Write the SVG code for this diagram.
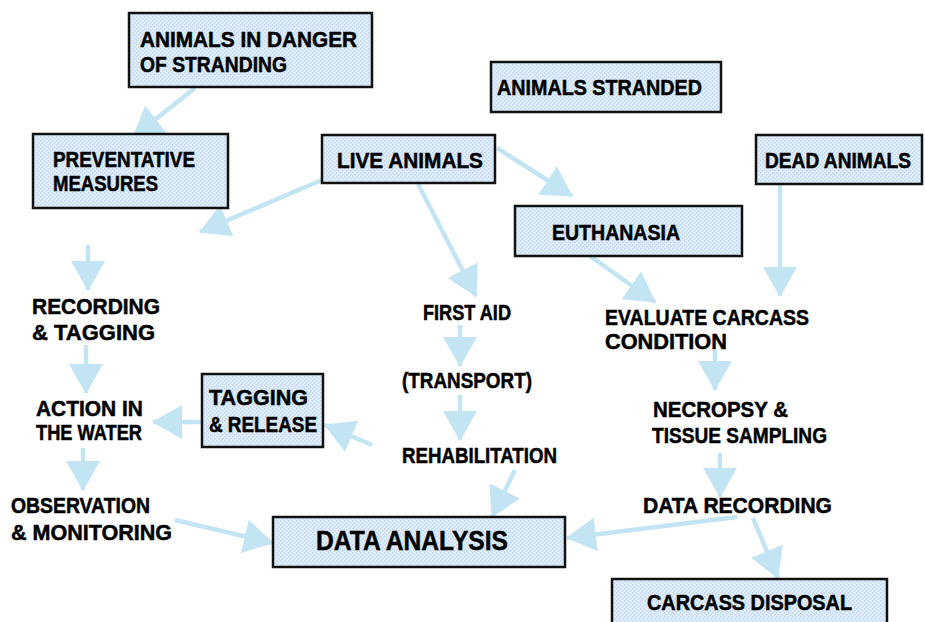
<svg xmlns="http://www.w3.org/2000/svg" width="925" height="622" viewBox="0 0 925 622">
  <defs>
    <pattern id="dots" width="4" height="4" patternUnits="userSpaceOnUse">
      <rect width="4" height="4" fill="#d8f0f8"/>
      <rect x="0" y="0" width="1.5" height="1.5" fill="#cfd2ee"/>
      <rect x="2" y="2" width="1.5" height="1.5" fill="#cfd2ee"/>
    </pattern>
    <marker id="ah" markerUnits="userSpaceOnUse" markerWidth="30" markerHeight="34" refX="29" refY="17" orient="auto" viewBox="0 0 30 34">
      <path d="M0,0 L30,17 L0,34 Z" fill="#c3e5f3"/>
    </marker>
    <style>
      .box { fill: url(#dots); stroke: #111; stroke-width: 2.5; }
      .t { font-family: "Liberation Sans", Arial, sans-serif; font-weight: bold; font-size: 22px; fill: #000; stroke: #000; stroke-width: 0.5; }
      .big { font-size: 28px; }
      .c line { stroke: #c3e5f3; stroke-width: 4.5; marker-end: url(#ah); }
    </style>
  </defs>
  <rect width="925" height="622" fill="#fff"/>

  <g id="connectors" class="c">
    <line x1="195" y1="88" x2="133" y2="137"/>
    <line x1="322" y1="180" x2="200" y2="232"/>
    <line x1="497" y1="148" x2="572" y2="196"/>
    <line x1="418" y1="184" x2="476" y2="296"/>
    <line x1="590" y1="256" x2="655" y2="302"/>
    <line x1="780" y1="184" x2="780" y2="296"/>
    <line x1="88" y1="245" x2="88" y2="290"/>
    <line x1="86" y1="345" x2="86" y2="393"/>
    <line x1="83" y1="448" x2="83" y2="490"/>
    <line x1="202" y1="422" x2="153" y2="422"/>
    <line x1="372" y1="445" x2="325" y2="425"/>
    <line x1="460" y1="325" x2="460" y2="366"/>
    <line x1="460" y1="395" x2="460" y2="440"/>
    <line x1="515" y1="470" x2="492" y2="517"/>
    <line x1="175" y1="520" x2="273" y2="543"/>
    <line x1="737" y1="517" x2="567" y2="538"/>
    <line x1="753" y1="518" x2="778" y2="578"/>
    <line x1="715" y1="350" x2="715" y2="390"/>
    <line x1="720" y1="453" x2="720" y2="497"/>
  </g>

  <g id="danger">
    <rect class="box" x="129" y="13" width="243" height="74"/>
    <text class="t" x="140" y="47" textLength="217" lengthAdjust="spacingAndGlyphs">ANIMALS IN DANGER</text>
    <text class="t" x="140" y="72" textLength="147" lengthAdjust="spacingAndGlyphs">OF STRANDING</text>
  </g>
  <g id="stranded">
    <rect class="box" x="491" y="62" width="230" height="50"/>
    <text class="t" x="497" y="95" textLength="205" lengthAdjust="spacingAndGlyphs">ANIMALS STRANDED</text>
  </g>
  <g id="preventative">
    <rect class="box" x="33" y="134" width="195" height="74"/>
    <text class="t" x="53" y="167" textLength="142" lengthAdjust="spacingAndGlyphs">PREVENTATIVE</text>
    <text class="t" x="53" y="191" textLength="105" lengthAdjust="spacingAndGlyphs">MEASURES</text>
  </g>
  <g id="live">
    <rect class="box" x="322" y="135" width="173" height="48"/>
    <text class="t" x="337" y="168" textLength="146" lengthAdjust="spacingAndGlyphs">LIVE ANIMALS</text>
  </g>
  <g id="dead">
    <rect class="box" x="756" y="135" width="166" height="49"/>
    <text class="t" transform="translate(765,168) scale(0.87,1)" x="0" y="0">DEAD ANIMALS</text>
  </g>
  <g id="euthanasia">
    <rect class="box" x="515" y="206" width="227" height="50"/>
    <text class="t" x="552" y="240" textLength="128" lengthAdjust="spacingAndGlyphs">EUTHANASIA</text>
  </g>
  <g id="recording">
    <text class="t" x="32" y="314" textLength="128" lengthAdjust="spacingAndGlyphs">RECORDING</text>
    <text class="t" x="32" y="340" textLength="123" lengthAdjust="spacingAndGlyphs">&amp; TAGGING</text>
  </g>
  <g id="action">
    <text class="t" x="36" y="416" textLength="107" lengthAdjust="spacingAndGlyphs">ACTION IN</text>
    <text class="t" x="36" y="440" textLength="106" lengthAdjust="spacingAndGlyphs">THE WATER</text>
  </g>
  <g id="observation">
    <text class="t" x="11" y="513" textLength="139" lengthAdjust="spacingAndGlyphs">OBSERVATION</text>
    <text class="t" x="11" y="540" textLength="161" lengthAdjust="spacingAndGlyphs">&amp; MONITORING</text>
  </g>
  <g id="tagging">
    <rect class="box" x="202" y="374" width="121" height="73"/>
    <text class="t" x="209" y="405" textLength="99" lengthAdjust="spacingAndGlyphs">TAGGING</text>
    <text class="t" x="209" y="432" textLength="108" lengthAdjust="spacingAndGlyphs">&amp; RELEASE</text>
  </g>
  <g id="firstaid">
    <text class="t" x="423" y="320" textLength="88" lengthAdjust="spacingAndGlyphs">FIRST AID</text>
  </g>
  <g id="transport">
    <text class="t" x="402" y="388" textLength="130" lengthAdjust="spacingAndGlyphs">(TRANSPORT)</text>
  </g>
  <g id="rehab">
    <text class="t" x="402" y="463" textLength="155" lengthAdjust="spacingAndGlyphs">REHABILITATION</text>
  </g>
  <g id="evaluate">
    <text class="t" x="605" y="325" textLength="204" lengthAdjust="spacingAndGlyphs">EVALUATE CARCASS</text>
    <text class="t" x="605" y="349" textLength="122" lengthAdjust="spacingAndGlyphs">CONDITION</text>
  </g>
  <g id="necropsy">
    <text class="t" x="653" y="417" textLength="135" lengthAdjust="spacingAndGlyphs">NECROPSY &amp;</text>
    <text class="t" x="652" y="443" textLength="175" lengthAdjust="spacingAndGlyphs">TISSUE SAMPLING</text>
  </g>
  <g id="datarecording">
    <text class="t" x="643" y="513" textLength="189" lengthAdjust="spacingAndGlyphs">DATA RECORDING</text>
  </g>
  <g id="analysis">
    <rect class="box" x="273" y="517" width="292" height="50"/>
    <text class="t big" x="316" y="550" textLength="192" lengthAdjust="spacingAndGlyphs">DATA ANALYSIS</text>
  </g>
  <g id="disposal">
    <rect class="box" x="612" y="579" width="275" height="50"/>
    <text class="t" x="647" y="610" textLength="205" lengthAdjust="spacingAndGlyphs">CARCASS DISPOSAL</text>
  </g>
</svg>
